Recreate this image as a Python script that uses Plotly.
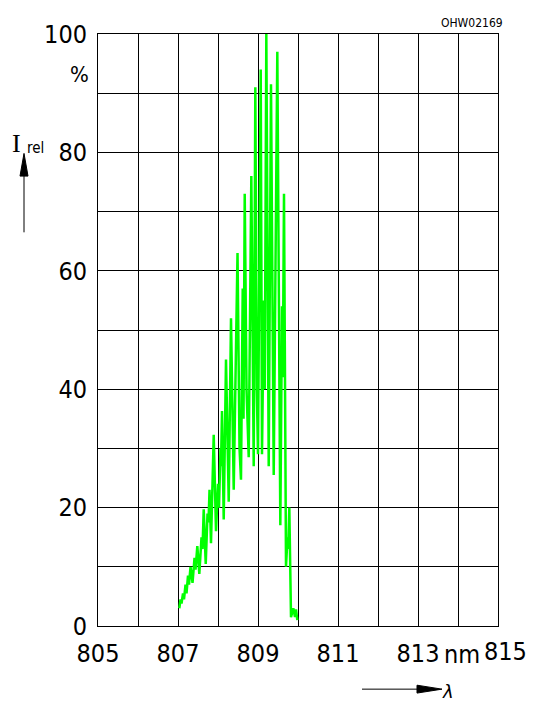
import plotly.graph_objects as go

# Spectrum: wavelength (nm) and relative intensity (%)
wavelength_nm = [
    807.033, 807.063, 807.088, 807.125, 807.150, 807.188, 807.213, 807.250,
    807.275, 807.313, 807.363, 807.413, 807.438, 807.483, 807.533, 807.588,
    807.613, 807.643, 807.693, 807.738, 807.763, 807.788, 807.825, 807.893,
    807.950, 808.000, 808.025, 808.063, 808.075, 808.100, 808.143, 808.200,
    808.268, 808.325, 808.393, 808.488, 808.538, 808.575, 808.618, 808.638,
    808.668, 808.713, 808.768, 808.833, 808.893, 808.933, 808.970, 809.000,
    809.068, 809.100, 809.145, 809.170, 809.208, 809.268, 809.325, 809.393,
    809.483, 809.558, 809.600, 809.620, 809.650, 809.700, 809.738, 809.755,
    809.783, 809.825, 809.883, 809.925, 809.950, 809.983,
]
intensity_pct = [
    3.0, 4.5, 3.8, 5.5, 4.5, 7.0, 5.5, 8.5,
    7.0, 10.0, 7.3, 11.5, 9.5, 13.5, 8.8, 15.0,
    13.0, 19.7, 10.5, 19.0, 17.5, 23.0, 14.0, 32.3,
    16.0, 24.0, 20.0, 30.0, 27.0, 36.3, 18.0, 45.0,
    21.0, 52.0, 23.0, 63.0, 30.0, 24.7, 57.0, 35.0,
    73.0, 40.0, 28.5, 76.0, 27.0, 91.0, 40.0, 29.0,
    94.0, 29.0, 55.0, 40.0, 100.0, 27.0, 91.5, 25.5,
    97.0, 17.0, 54.0, 42.0, 73.0, 10.0, 15.0, 13.0,
    20.0, 1.5, 3.0, 1.5, 2.8, 1.0,
]

x_ticks = [805, 806, 807, 808, 809, 810, 811, 812, 813, 814, 815]
x_tick_text = ["805", "", "807", "", "809", "", "811", "", "813", "", ""]
x_last_label = "815"
y_ticks = [0, 10, 20, 30, 40, 50, 60, 70, 80, 90, 100]
y_tick_text = ["0", "", "20", "", "40", "", "60", "", "80", "", "100"]

FONT = "DejaVu Sans Condensed, Liberation Sans Narrow, Liberation Sans, sans-serif"
TICK_SIZE = 25

fig = go.Figure()
fig.add_trace(go.Scatter(
    x=wavelength_nm, y=intensity_pct, mode="lines",
    line=dict(color="#00ff00", width=2.5), showlegend=False, hoverinfo="skip",
))

fig.update_layout(
    width=536, height=704,
    margin=dict(l=90, r=46, t=18, b=86),
    paper_bgcolor="white", plot_bgcolor="white",
    font=dict(family=FONT, size=TICK_SIZE, color="black"),
    xaxis=dict(
        range=[805, 815], tickvals=x_ticks, ticktext=x_tick_text,
        showgrid=True, gridcolor="black", gridwidth=1,
        showline=True, linecolor="black", linewidth=1, mirror=True,
        zeroline=False, ticks="", ticklabelstandoff=5,
        tickfont=dict(family=FONT, size=TICK_SIZE, color="black"),
    ),
    yaxis=dict(
        range=[0, 100], tickvals=y_ticks, ticktext=y_tick_text,
        showgrid=True, gridcolor="black", gridwidth=1,
        showline=True, linecolor="black", linewidth=1, mirror=True,
        zeroline=False, ticks="", ticklabelstandoff=5,
        tickfont=dict(family=FONT, size=TICK_SIZE, color="black"),
    ),
)

annotations = [
    dict(text=x_last_label, x=815, y=-0.0433, xref="x", yref="paper",
         xshift=7, xanchor="center", yanchor="middle", showarrow=False,
         font=dict(family=FONT, size=TICK_SIZE, color="black")),
    dict(text="nm", x=0.91, y=-0.048, xref="paper", yref="paper",
         xanchor="center", yanchor="middle", showarrow=False,
         font=dict(family=FONT, size=TICK_SIZE, color="black")),
    dict(text="OHW02169", x=0.935, y=1.0183, xref="paper", yref="paper",
         xanchor="center", yanchor="middle", showarrow=False,
         font=dict(family=FONT, size=12, color="black")),
    dict(text="%", x=-0.0475, y=0.932, xref="paper", yref="paper",
         xanchor="center", yanchor="middle", showarrow=False,
         font=dict(family=FONT, size=22, color="black")),
    dict(text="I", x=-0.205, y=0.815, xref="paper", yref="paper",
         xanchor="center", yanchor="middle", showarrow=False,
         font=dict(family="Liberation Serif, serif", size=26, color="black")),
    dict(text="rel", x=-0.1825, y=0.808, xref="paper", yref="paper",
         xanchor="left", yanchor="middle", showarrow=False,
         font=dict(family=FONT, size=15, color="black")),
    dict(text="λ", x=0.875, y=-0.110, xref="paper", yref="paper",
         xanchor="center", yanchor="middle", showarrow=False,
         font=dict(family="DejaVu Sans, sans-serif", size=18, color="black",
                   style="italic")),
]

shapes = [
    # x-direction arrow
    dict(type="line", xref="paper", yref="paper",
         x0=0.66, x1=0.805, y0=-0.10667, y1=-0.10667,
         line=dict(color="black", width=1)),
    dict(type="path", xref="paper", yref="paper",
         path="M 0.7975,-0.1000 L 0.86,-0.10667 L 0.7975,-0.11333 Z",
         fillcolor="black", line=dict(color="black", width=1)),
    # y-direction arrow
    dict(type="line", xref="paper", yref="paper",
         x0=-0.185, x1=-0.185, y0=0.665, y1=0.77,
         line=dict(color="black", width=1)),
    dict(type="path", xref="paper", yref="paper",
         path="M -0.195,0.76 L -0.185,0.7983 L -0.175,0.76 Z",
         fillcolor="black", line=dict(color="black", width=1)),
]
fig.update_layout(annotations=annotations, shapes=shapes)

fig.write_html("out.html")
